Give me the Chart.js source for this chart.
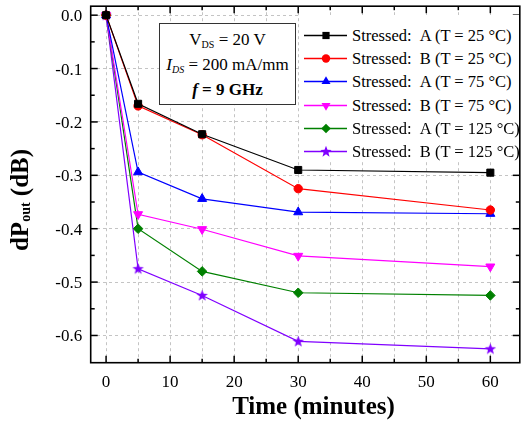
<!DOCTYPE html>
<html><head><meta charset="utf-8">
<script src="https://cdn.jsdelivr.net/npm/chart.js@4.4.1/dist/chart.umd.min.js"></script>
<style>
html,body{margin:0;padding:0;background:#fff;}
#wrap{position:relative;width:526px;height:421px;overflow:hidden;font-family:"Liberation Serif","Times New Roman",serif;color:#000;}
#c{position:absolute;left:0;top:0;}
.box{position:absolute;left:159px;top:23px;width:137px;height:82px;border:1px solid #333;background:#fff;box-sizing:border-box;text-align:center;font-size:17px;line-height:25px;padding-top:3px;white-space:nowrap;}
.box sub{font-size:10px;vertical-align:-3px;line-height:0;}
.legbg{position:absolute;left:300px;top:15px;width:219px;height:147px;background:#fff;}
.row{position:absolute;left:302px;height:23px;line-height:23px;font-size:16.5px;white-space:nowrap;}
.row svg{position:absolute;left:0;top:0;}
.row span{position:absolute;left:50px;top:0;}
.ytitle{position:absolute;width:200px;height:30px;line-height:30px;left:-80.4px;top:185px;transform:rotate(-90deg);text-align:center;font-weight:bold;font-size:25px;white-space:nowrap;}
.ytitle sub{font-size:14px;vertical-align:-2px;line-height:0;}
.xtitle{position:absolute;width:300px;height:30px;line-height:30px;left:163.5px;top:391px;text-align:center;font-weight:bold;font-size:25px;white-space:nowrap;}
</style>
</head><body>
<div id="wrap">
<canvas id="c" width="526" height="421"></canvas>
<div class="box">
<div>V<sub>DS</sub> = 20 V</div>
<div><i>I</i><sub><i>DS</i></sub> = 200 mA/mm</div>
<div><b><i>f</i> = 9 GHz</b></div>
</div>
<div class="legbg"></div>
<div id="legend"></div>
<div class="ytitle">dP<sub>out</sub> (dB)</div>
<div class="xtitle">Time (minutes)</div>
</div>
<script>
// ---- data ----
const times = [0, 5, 15, 30, 60];
const seriesLabels = [
  'Stressed:\u00a0\u00a0A (T = 25 °C)',
  'Stressed:\u00a0\u00a0B (T = 25 °C)',
  'Stressed:\u00a0\u00a0A (T = 75 °C)',
  'Stressed:\u00a0\u00a0B (T = 75 °C)',
  'Stressed:\u00a0\u00a0A (T = 125 °C)',
  'Stressed:\u00a0\u00a0B (T = 125 °C)'
];
const stressA25  = [0, -0.166, -0.223, -0.290, -0.295];
const stressB25  = [0, -0.170, -0.224, -0.325, -0.365];
const stressA75  = [0, -0.294, -0.344, -0.369, -0.372];
const stressB75  = [0, -0.373, -0.401, -0.451, -0.471];
const stressA125 = [0, -0.400, -0.480, -0.520, -0.525];
const stressB125 = [0, -0.475, -0.525, -0.611, -0.625];

const xTicks = [0, 10, 20, 30, 40, 50, 60];
const xTickLabels = ['0', '10', '20', '30', '40', '50', '60'];
const xMinorTicks = [5, 15, 25, 35, 45, 55];
const yTicks = [0.0, -0.1, -0.2, -0.3, -0.4, -0.5, -0.6];
const yTickLabels = ['0.0', '-0.1', '-0.2', '-0.3', '-0.4', '-0.5', '-0.6'];
const yMinorTicks = [-0.05, -0.15, -0.25, -0.35, -0.45, -0.55];

// ---- styles ----
const colors = ['#000000', '#ff0000', '#0000ff', '#ff00ff', '#008000', '#8000ff'];
const FONT = "'Liberation Serif', serif";
Chart.defaults.font.family = FONT;
Chart.defaults.font.size = 17;
Chart.defaults.color = '#000';

function starPath(ctx, cx, cy, ro, ri) {
  ctx.beginPath();
  for (let i = 0; i < 10; i++) {
    const r = i % 2 === 0 ? ro : ri;
    const a = -Math.PI / 2 + i * Math.PI / 5;
    const px = cx + r * Math.cos(a), py = cy + r * Math.sin(a);
    if (i === 0) ctx.moveTo(px, py); else ctx.lineTo(px, py);
  }
  ctx.closePath();
}
const starImg = document.createElement('canvas');
starImg.width = 13; starImg.height = 13;
(function () {
  const g = starImg.getContext('2d');
  starPath(g, 6.5, 6.8, 6, 2.5);
  g.fillStyle = colors[5]; g.fill();
})();

const seriesValues = [stressA25, stressB25, stressA75, stressB75, stressA125, stressB125];
const pointStyles = ['rect', 'circle', 'triangle', 'triangle', 'rectRot', starImg];
const pointRadii = [5, 4.2, 5.2, 5.2, 4.8, 5];
const rotations = [0, 0, 0, 180, 0, 0];

const datasets = seriesValues.map((vals, i) => ({
  label: seriesLabels[i],
  data: times.map((t, k) => ({ x: t, y: vals[k] })),
  borderColor: colors[i],
  backgroundColor: colors[i],
  borderWidth: 1.2,
  pointStyle: pointStyles[i],
  pointRadius: pointRadii[i],
  pointRotation: rotations[i],
  pointBorderWidth: 1,
  pointBorderColor: colors[i],
  pointBackgroundColor: colors[i],
  tension: 0
}));

const isMajorY = v => yTicks.some(t => Math.abs(t - v) < 1e-6);

// frame, inward ticks and tick labels, all positioned by the chart's own scales
const framePlugin = {
  id: 'frame',
  afterDraw(chart) {
    const { ctx, chartArea: { left, right, top, bottom }, scales: { x, y } } = chart;
    ctx.save();
    ctx.strokeStyle = '#000';
    ctx.lineWidth = 1.5;
    const seg = (x1, y1, x2, y2) => { ctx.beginPath(); ctx.moveTo(x1, y1); ctx.lineTo(x2, y2); ctx.stroke(); };
    xTicks.concat(xMinorTicks).forEach(v => {
      const px = x.getPixelForValue(v);
      const len = xTicks.includes(v) ? 7 : 4;
      seg(px, bottom, px, bottom - len);
      seg(px, top, px, top + len);
    });
    yTicks.concat(yMinorTicks).forEach(v => {
      const py = y.getPixelForValue(v);
      const len = isMajorY(v) ? 7 : 4;
      seg(left, py, left + len, py);
      seg(right, py, right - len, py);
    });
    ctx.lineWidth = 1.6;
    ctx.strokeRect(left, top, right - left, bottom - top);

    ctx.fillStyle = '#000';
    ctx.font = "17px 'Liberation Serif', serif";
    ctx.textAlign = 'center';
    ctx.textBaseline = 'alphabetic';
    xTicks.forEach((v, i) => ctx.fillText(xTickLabels[i], x.getPixelForValue(v), bottom + 24.5));
    ctx.textAlign = 'right';
    yTicks.forEach((v, i) => ctx.fillText(yTickLabels[i], left - 8.5, y.getPixelForValue(v) + 6));
    ctx.restore();
  }
};

new Chart(document.getElementById('c'), {
  type: 'line',
  data: { datasets },
  options: {
    responsive: false,
    animation: false,
    devicePixelRatio: 1,
    layout: { padding: { left: 0, top: 5, right: 0, bottom: 0 } },
    plugins: { legend: { display: false }, tooltip: { enabled: false } },
    scales: {
      x: {
        type: 'linear',
        min: -2.4, max: 64.6,
        afterBuildTicks: s => { s.ticks = xTicks.concat(xMinorTicks).sort((a, b) => a - b).map(v => ({ value: v })); },
        afterFit: s => { s.height = 58.3; },
        grid: { color: '#c4c4c4', lineWidth: 1, drawTicks: false },
        border: { display: false, dash: [3, 3] },
        ticks: { display: false }
      },
      y: {
        type: 'linear',
        min: -0.651, max: 0.0168,
        afterBuildTicks: s => { s.ticks = yTicks.concat(yMinorTicks).sort((a, b) => b - a).map(v => ({ value: v })); },
        afterFit: s => { s.width = 90.7; },
        grid: {
          color: c => (isMajorY(c.tick.value) ? '#c4c4c4' : 'rgba(0,0,0,0)'),
          lineWidth: 1, drawTicks: false
        },
        border: { display: false, dash: [3, 3] },
        ticks: { display: false }
      }
    }
  },
  plugins: [framePlugin]
});

// ---- legend (HTML) ----
const legendRowCenters = [35, 58.5, 81.5, 105, 128, 151];
const legend = document.getElementById('legend');
function markerSvg(i) {
  const c = colors[i], cx = 24, cy = 11.5;
  let m = '';
  if (i === 0) m = `<rect x="${cx - 3.6}" y="${cy - 3.6}" width="7.2" height="7.2" fill="${c}"/>`;
  if (i === 1) m = `<circle cx="${cx}" cy="${cy}" r="4.2" fill="${c}"/>`;
  if (i === 2) m = `<polygon points="${cx},${cy - 5.2} ${cx + 4.5},${cy + 2.6} ${cx - 4.5},${cy + 2.6}" fill="${c}"/>`;
  if (i === 3) m = `<polygon points="${cx},${cy + 5.2} ${cx + 4.5},${cy - 2.6} ${cx - 4.5},${cy - 2.6}" fill="${c}"/>`;
  if (i === 4) m = `<polygon points="${cx},${cy - 4.8} ${cx + 4.8},${cy} ${cx},${cy + 4.8} ${cx - 4.8},${cy}" fill="${c}"/>`;
  if (i === 5) {
    let pts = [];
    for (let k = 0; k < 10; k++) { const r = k % 2 === 0 ? 6 : 2.5; const a = -Math.PI / 2 + k * Math.PI / 5; pts.push((cx + r * Math.cos(a)).toFixed(2) + ',' + (cy + 0.3 + r * Math.sin(a)).toFixed(2)); }
    m = `<polygon points="${pts.join(' ')}" fill="${c}"/>`;
  }
  return `<svg width="48" height="23" viewBox="0 0 48 23"><line x1="2" y1="${cy}" x2="45" y2="${cy}" stroke="${c}" stroke-width="1.3"/>${m}</svg>`;
}
seriesLabels.forEach((lab, i) => {
  const row = document.createElement('div');
  row.className = 'row';
  row.style.top = (legendRowCenters[i] - 11.5) + 'px';
  row.innerHTML = markerSvg(i) + '<span></span>';
  row.querySelector('span').textContent = lab;
  legend.appendChild(row);
});
</script>
</body></html>
